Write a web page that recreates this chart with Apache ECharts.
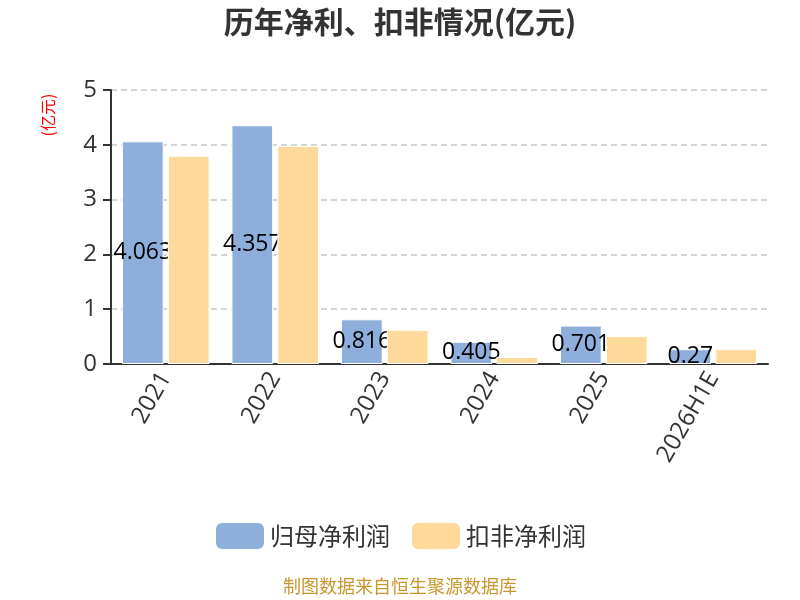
<!DOCTYPE html>
<html><head><meta charset="utf-8">
<script src="https://cdn.jsdelivr.net/npm/echarts@6/dist/echarts.min.js"></script>
<style>html,body{margin:0;padding:0;background:#fff}#c{width:800px;height:600px}</style>
</head><body><div id="c"></div>
<script>
var categories = ['2021','2022','2023','2024','2025','2026H1E'];
var netProfit = [4.063, 4.357, 0.816, 0.405, 0.701, 0.27];
var deductedProfit = [3.80, 3.98, 0.62, 0.13, 0.51, 0.27];
var seriesNames = ['归母净利润','扣非净利润'];
var chart = echarts.init(document.getElementById('c'));
var font = '"Open Sans", "Noto Sans CJK SC", sans-serif';
chart.setOption({
  animation: false,
  textStyle: {fontFamily: font},
  title: {text: '历年净利、扣非情况(亿元)', left: 'center', top: 2,
    textStyle: {fontSize: 30, fontWeight: 'bold', color: '#333', fontFamily: '"Noto Sans CJK SC", sans-serif'}},
  legend: {data: seriesNames, bottom: 44, left: 'center', itemWidth: 50, itemHeight: 28, itemGap: 20,
    itemStyle: {borderRadius: 5},
    textStyle: {fontSize: 24, color: '#333', fontFamily: '"Noto Sans CJK SC", sans-serif'}},
  grid: {left: 111, right: 32, top: 90, bottom: 236},
  graphic: [
    {type: 'text', left: 'center', top: 577, style: {text: '制图数据来自恒生聚源数据库', fill: '#c9962c', font: '18px "Noto Sans CJK SC"'}},
    {type: 'text', x: 48, y: 115, rotation: Math.PI/2, style: {text: '(亿元)', fill: '#ff0000', font: '16px "Noto Sans CJK SC"', align: 'center', verticalAlign: 'middle'}}
  ],
  xAxis: {type: 'category', data: categories,
    axisLine: {lineStyle: {color: '#333', width: 2}},
    axisTick: {lineStyle: {color: '#333', width: 2}, length: 8},
    axisLabel: {rotate: 60, fontSize: 24, color: '#333', margin: 10, fontFamily: font}},
  yAxis: {type: 'value', min: 0, max: 5, interval: 1,
    axisLine: {show: true, lineStyle: {color: '#333', width: 2}},
    axisTick: {show: true, length: 8, lineStyle: {color: '#333', width: 2}},
    axisLabel: {fontSize: 24, color: '#333', margin: 14, fontFamily: font},
    splitLine: {lineStyle: {type: [6, 4], color: '#c8c8c8', width: 1.5}}},
  series: [
    {name: seriesNames[0], type: 'bar', data: netProfit, barGap: '10%', barCategoryGap: '20%', z: 2,
      itemStyle: {color: '#8eaedb', borderColor: '#fff', borderWidth: 1},
      label: {show: true, position: 'inside', fontSize: 23, color: '#000', fontFamily: font}},
    {name: seriesNames[1], type: 'bar', data: deductedProfit, barGap: '10%', barCategoryGap: '20%', z: 3,
      itemStyle: {color: '#ffd99a', borderColor: '#fff', borderWidth: 1}}
  ]
});
</script></body></html>
